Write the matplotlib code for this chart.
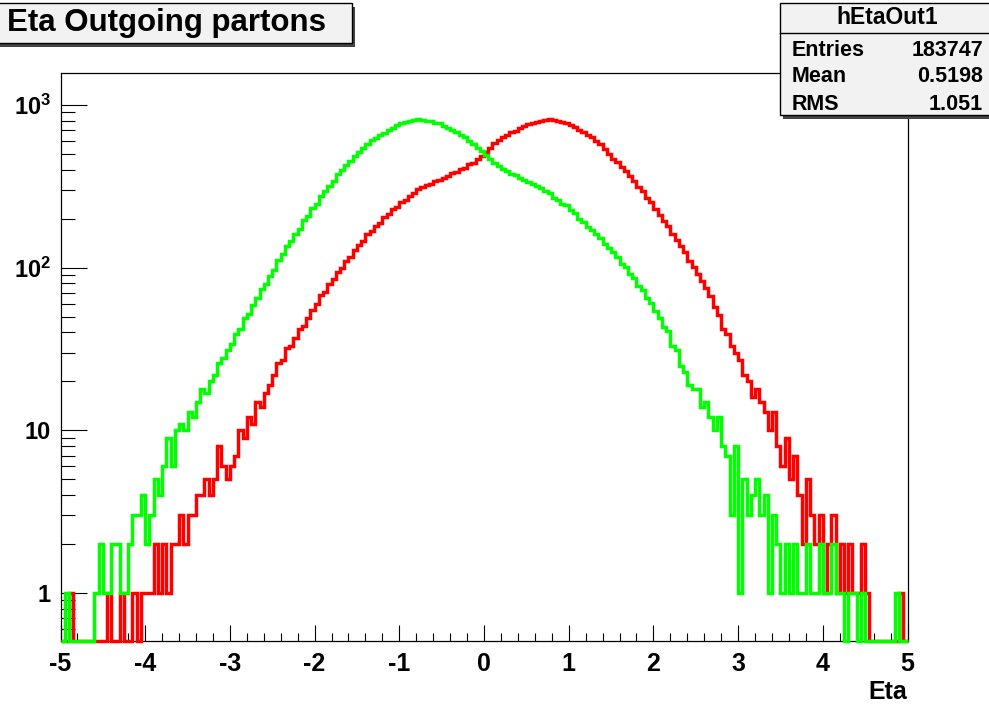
import numpy as np
import matplotlib
matplotlib.use("Agg")
import matplotlib.pyplot as plt
from matplotlib.patches import Rectangle
from matplotlib.lines import Line2D
from matplotlib.ticker import FixedLocator, MultipleLocator, LogLocator, NullFormatter

# ---- data (counts per bin) ----
eta_lo, eta_hi, nbins = -5.0, 5.0, 200

red_counts = [
    0, 0, 1, 0, 0, 0, 0, 0, 0, 0,
    0, 1, 0, 0, 1, 0, 0, 1, 0, 1,
    1, 1, 2, 1, 2, 1, 2, 2, 3, 2,
    3, 3, 4, 4, 5, 4, 5, 8, 6, 5,
    6, 7, 10, 9, 12, 11, 15, 14, 17, 19,
    22, 26, 27, 32, 33, 37, 42, 44, 49, 55,
    60, 68, 71, 79, 85, 94, 100, 110, 116, 129,
    137, 145, 160, 168, 180, 189, 206, 214, 228, 236,
    253, 260, 276, 286, 305, 312, 324, 329, 343, 347,
    358, 366, 382, 390, 404, 412, 432, 443, 464, 483,
    516, 543, 582, 608, 632, 652, 678, 693, 722, 738,
    762, 777, 788, 802, 808, 817, 806, 802, 788, 780,
    758, 737, 703, 682, 653, 632, 598, 572, 533, 502,
    468, 447, 418, 394, 366, 342, 313, 294, 270, 252,
    228, 210, 193, 180, 160, 149, 136, 125, 110, 101,
    91, 83, 75, 67, 57, 51, 42, 39, 33, 30,
    27, 22, 20, 16, 18, 15, 13, 10, 13, 8,
    6, 9, 5, 7, 4, 2, 5, 3, 2, 3,
    1, 2, 3, 1, 2, 1, 2, 1, 1, 2,
    1, 0, 0, 0, 0, 0, 0, 0, 1, 0,
]

green_counts = [
    0, 1, 0, 0, 0, 0, 0, 0, 1, 2,
    1, 1, 2, 2, 1, 1, 2, 3, 3, 4,
    2, 3, 5, 4, 6, 9, 6, 10, 11, 10,
    13, 12, 15, 18, 17, 20, 22, 26, 28, 31,
    34, 39, 42, 49, 52, 59, 65, 74, 79, 89,
    97, 111, 121, 135, 145, 162, 174, 196, 208, 232,
    248, 277, 294, 320, 343, 374, 398, 428, 452, 488,
    512, 548, 572, 607, 628, 657, 676, 703, 722, 752,
    770, 788, 798, 814, 818, 814, 803, 797, 778, 770,
    746, 727, 698, 682, 652, 632, 598, 577, 546, 522,
    493, 467, 438, 424, 403, 394, 378, 370, 354, 347,
    336, 328, 316, 307, 296, 287, 270, 262, 248, 242,
    226, 217, 198, 192, 178, 171, 160, 152, 139, 133,
    124, 117, 106, 101, 91, 86, 77, 73, 65, 61,
    54, 49, 43, 41, 33, 31, 25, 23, 19, 18,
    18, 14, 15, 12, 10, 12, 8, 7, 3, 8,
    1, 5, 3, 4, 5, 3, 4, 1, 3, 2,
    1, 2, 1, 2, 1, 1, 2, 1, 1, 2,
    1, 1, 2, 1, 1, 0, 1, 1, 0, 1,
    0, 0, 0, 0, 0, 0, 0, 1, 0, 0,
]

title = "Eta Outgoing partons"
stats_name = "hEtaOut1"
stats_rows = [("Entries", "183747"), ("Mean", "0.5198"), ("RMS", "1.051")]
xticks = [-5, -4, -3, -2, -1, 0, 1, 2, 3, 4, 5]
yticks = [1, 10, 100, 1000]
ytick_labels = ["1", "10", "$10^{2}$", "$10^{3}$"]

# ---- style ----
plt.rcParams["font.family"] = ["Liberation Sans", "DejaVu Sans"]
plt.rcParams["font.weight"] = "bold"
plt.rcParams["mathtext.fontset"] = "custom"
plt.rcParams["mathtext.rm"] = "Liberation Sans:bold"
plt.rcParams["mathtext.it"] = "Liberation Sans:bold"
plt.rcParams["mathtext.bf"] = "Liberation Sans:bold"
plt.rcParams["axes.unicode_minus"] = False

W, H = 989, 704
fig = plt.figure(figsize=(W / 100, H / 100), dpi=100)
fig.patch.set_facecolor("white")


def fx(x):
    return x / W


def fy(y):
    return 1 - y / H


# axes frame in pixels: x 60.5..907.5, y 72.7..641
ax = fig.add_axes([fx(60.5), fy(641), fx(847), 568.3 / H])
ax.set_yscale("log")
ymin, ymax = 0.507, 1580
ax.set_xlim(eta_lo, eta_hi)
ax.set_ylim(ymin, ymax)

edges = np.linspace(eta_lo, eta_hi, nbins + 1)
red = np.array(red_counts, dtype=float)
green = np.array(green_counts, dtype=float)
# empty bins are drawn along the bottom of the frame, like ROOT does
ax.stairs(np.where(red > 0, red, ymin), edges, baseline=None,
          color="#ff0000", lw=2.5, clip_on=False, zorder=3)
ax.stairs(np.where(green > 0, green, ymin), edges, baseline=None,
          color="#00ff00", lw=2.5, clip_on=False, zorder=4)

for s in ax.spines.values():
    s.set_linewidth(0.9)
    s.set_color("black")

ax.xaxis.set_major_locator(FixedLocator(xticks))
ax.set_xticklabels([str(t) for t in xticks])
ax.xaxis.set_minor_locator(MultipleLocator(0.2))
ax.yaxis.set_major_locator(FixedLocator(yticks))
ax.set_yticklabels(ytick_labels)
ax.yaxis.set_minor_locator(LogLocator(base=10, subs=np.arange(2, 10)))
ax.yaxis.set_minor_formatter(NullFormatter())

ax.tick_params(axis="x", which="major", direction="in", length=11.5, width=0.8,
               labelsize=18, pad=8)
ax.tick_params(axis="x", which="minor", direction="in", length=5.8, width=0.8)
ax.tick_params(axis="y", which="major", direction="in", length=18.5, width=0.8,
               labelsize=17, pad=7)
ax.tick_params(axis="y", which="minor", direction="in", length=10, width=0.8)

ax.set_xlabel("Eta", fontsize=18, fontweight="bold")
ax.xaxis.set_label_coords(1.0, -51 / 568.3)
ax.xaxis.label.set_horizontalalignment("right")
ax.xaxis.label.set_verticalalignment("center")

# ---- title box ----
fig.add_artist(Rectangle((fx(-2), fy(46.5)), 357 / W, 39.5 / H,
                         transform=fig.transFigure, facecolor="#444444",
                         edgecolor="none", zorder=10))
fig.add_artist(Rectangle((fx(-5), fy(43)), 357 / W, 39.5 / H,
                         transform=fig.transFigure, facecolor="#f2f2f2",
                         edgecolor="black", lw=1.0, zorder=11))
fig.text(fx(326), fy(23), title, ha="right", va="center", fontsize=22.5,
         fontweight="bold", zorder=12)

# ---- stats box ----
fig.add_artist(Rectangle((fx(783), fy(118.5)), 220 / W, 112 / H,
                         transform=fig.transFigure, facecolor="#444444",
                         edgecolor="none", zorder=10))
fig.add_artist(Rectangle((fx(780), fy(115)), 220 / W, 112 / H,
                         transform=fig.transFigure, facecolor="#f2f2f2",
                         edgecolor="black", lw=1.0, zorder=11))
fig.add_artist(Line2D([fx(780), fx(995)], [fy(33), fy(33)],
                      transform=fig.transFigure, color="black", lw=1.0, zorder=12))
fig.text(fx(887), fy(18), stats_name, ha="center", va="center", fontsize=16.5,
         fontweight="bold", zorder=12)
for i, (k, v) in enumerate(stats_rows):
    yy = fy(50 + i * 27)
    fig.text(fx(792), yy, k, ha="left", va="center", fontsize=15.5,
             fontweight="bold", zorder=12)
    fig.text(fx(983), yy, v, ha="right", va="center", fontsize=15.5,
             fontweight="bold", zorder=12)

fig.savefig("out.png", dpi=100)
